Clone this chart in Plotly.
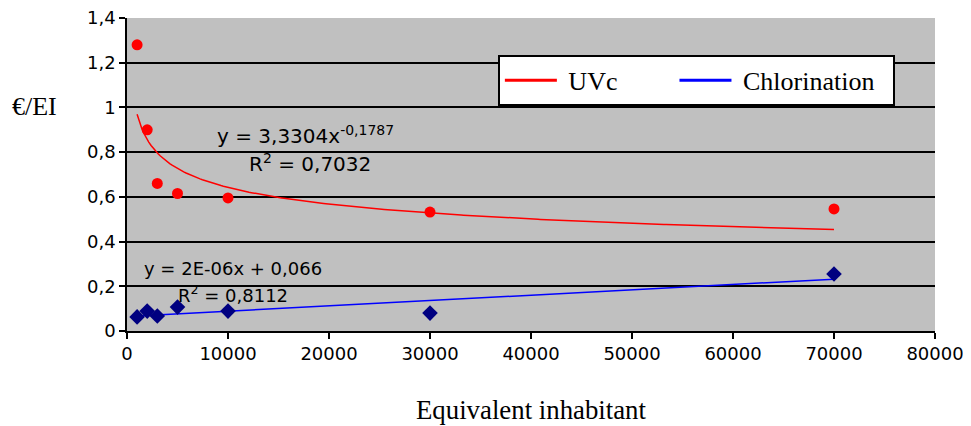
import numpy as np
import plotly.graph_objects as go

# Data
uvc_x = [1000, 2000, 3000, 5000, 10000, 30000, 70000]
uvc_y = [1.28, 0.90, 0.66, 0.615, 0.595, 0.532, 0.546]

chl_x = [1000, 2000, 3000, 5000, 10000, 30000, 70000]
chl_y = [0.063, 0.089, 0.067, 0.107, 0.089, 0.080, 0.255]

# Trendlines (power for UVc as labelled on the chart, linear for Chlorination)
uvc_coef_a = 3.3304
uvc_coef_b = -0.1787
trend_x = np.linspace(1000, 70000, 300)
trend_uvc = uvc_coef_a * trend_x ** uvc_coef_b
chl_trend_x = [1000, 70000]
chl_trend_y = [0.067, 0.232]

x_ticks = [0, 10000, 20000, 30000, 40000, 50000, 60000, 70000, 80000]
y_ticks = [0, 0.2, 0.4, 0.6, 0.8, 1.0, 1.2, 1.4]
y_tick_text = ["0", "0,2", "0,4", "0,6", "0,8", "1", "1,2", "1,4"]

SANS = "DejaVu Sans"
SERIF = "Liberation Serif"
NB = "\u00a0"

fig = go.Figure()
fig.add_trace(go.Scatter(x=trend_x, y=trend_uvc, mode="lines", showlegend=False,
                         line=dict(color="#FF0000", width=1.5)))
fig.add_trace(go.Scatter(x=chl_trend_x, y=chl_trend_y, mode="lines", showlegend=False,
                         line=dict(color="#0000FF", width=1.5)))
# legend entries (thicker line keys, as in the reference legend)
fig.add_trace(go.Scatter(x=[None], y=[None], mode="lines", name=NB + "UVc" + NB * 8,
                         line=dict(color="#FF0000", width=3)))
fig.add_trace(go.Scatter(x=[None], y=[None], mode="lines",
                         name=NB + "Chlorination" + NB * 2,
                         line=dict(color="#0000FF", width=3)))
fig.add_trace(go.Scatter(x=uvc_x, y=uvc_y, mode="markers", showlegend=False,
                         marker=dict(color="#FF0000", size=11, symbol="circle")))
fig.add_trace(go.Scatter(x=chl_x, y=chl_y, mode="markers", showlegend=False,
                         marker=dict(color="#000080", size=12, symbol="diamond")))

red_font = dict(family=SANS, size=20, color="black")
blue_font = dict(family=SANS, size=18, color="black")
fig.add_annotation(x=17650, y=0.877,
                   text="y = 3,3304x<sup><span style='font-size:14px'>-0,1787</span></sup>",
                   showarrow=False, font=red_font)
fig.add_annotation(x=18119, y=0.751, text="R<sup>2</sup> = 0,7032",
                   showarrow=False, font=red_font)
fig.add_annotation(x=10446, y=0.2795, text="y = 2E-06x + 0,066",
                   showarrow=False, font=blue_font)
fig.add_annotation(x=10495, y=0.165, text="R<sup>2</sup> = 0,8112",
                   showarrow=False, font=blue_font)

fig.add_annotation(x=-0.1139, y=0.716, xref="paper", yref="paper", text="€/EI",
                   xanchor="center", yanchor="middle",
                   showarrow=False, font=dict(family=SERIF, size=26, color="black"))
fig.add_annotation(x=0.501, y=-0.252, xref="paper", yref="paper", text="Equivalent inhabitant",
                   xanchor="center", yanchor="middle",
                   showarrow=False, font=dict(family=SERIF, size=26.8, color="black"))

fig.update_layout(
    width=963, height=418,
    margin=dict(l=119, r=36, t=10, b=95),
    paper_bgcolor="white",
    plot_bgcolor="#C0C0C0",
    font=dict(family=SANS, size=18, color="black"),
    legend=dict(orientation="h", x=0.459, y=0.882, xanchor="left", yanchor="top",
                bgcolor="white", bordercolor="black", borderwidth=2,
                font=dict(family=SERIF, size=26, color="black"),
                itemwidth=52),
    xaxis=dict(range=[0, 80000], tickvals=x_ticks, ticktext=[str(v) for v in x_ticks],
               showgrid=False, zeroline=False, showline=True, linecolor="black", linewidth=1.5,
               ticks="outside", ticklen=6, tickcolor="black", tickwidth=1.5, automargin=False,
               ticklabeloverflow="allow"),
    yaxis=dict(range=[0, 1.4], tickvals=y_ticks, ticktext=y_tick_text,
               showgrid=True, gridcolor="black", gridwidth=1.5, zeroline=False,
               showline=True, linecolor="black", linewidth=1.5, automargin=False,
               ticks="outside", ticklen=6, tickcolor="black", tickwidth=1.5,
               ticklabeloverflow="allow"),
)

fig.write_html("out.html")
